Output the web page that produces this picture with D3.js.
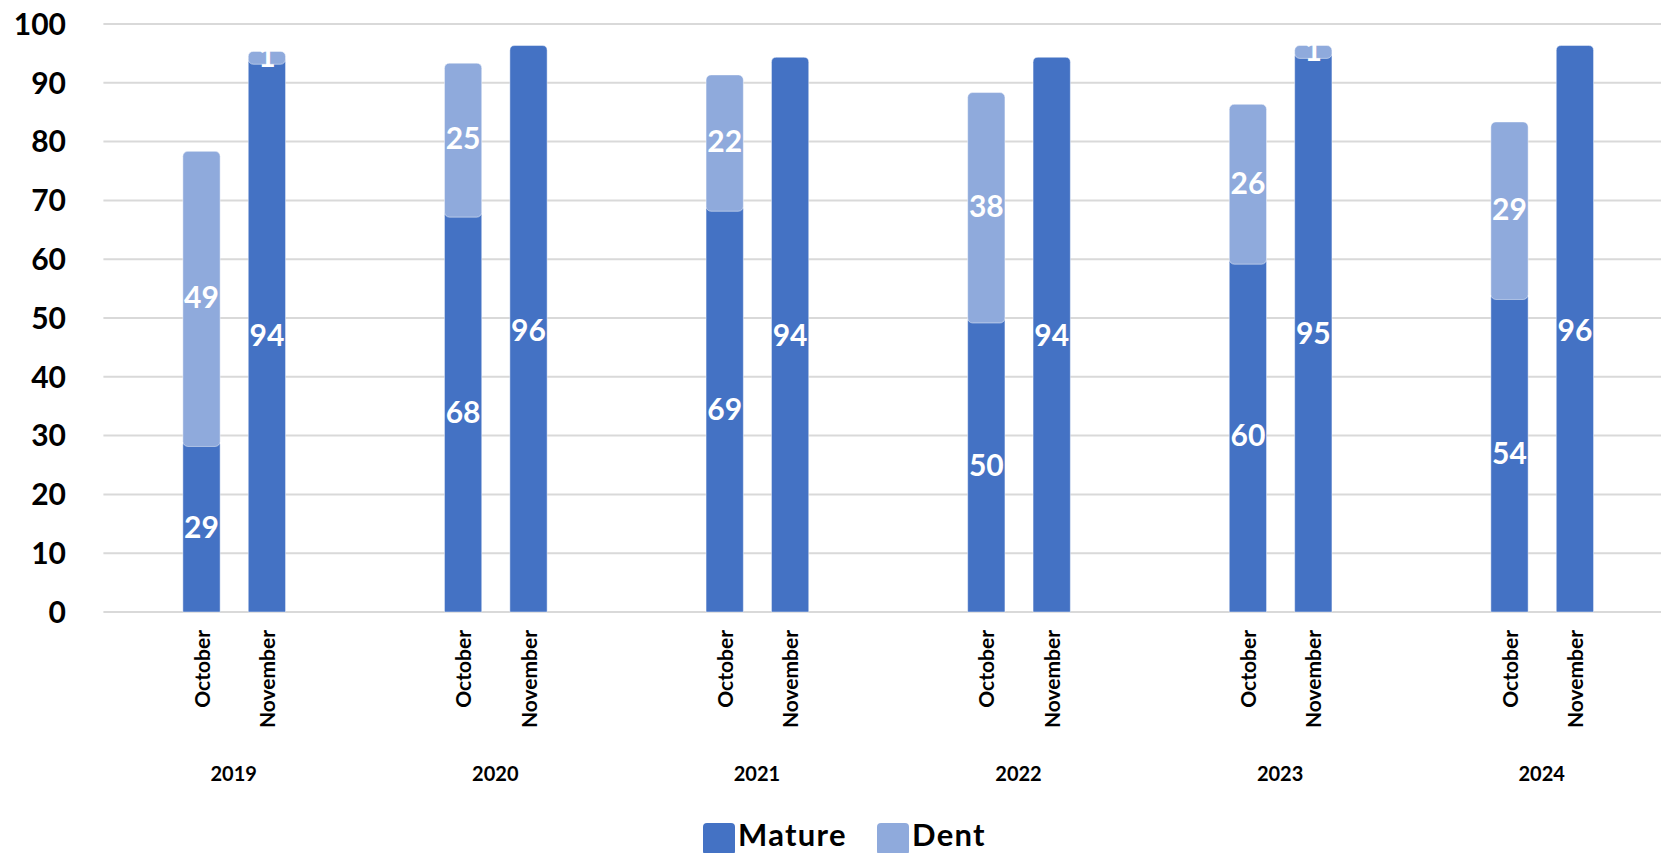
<!DOCTYPE html>
<html>
<head>
<meta charset="utf-8">
<script src="https://cdn.jsdelivr.net/npm/d3@7"></script>
<style>
  html, body { margin: 0; padding: 0; background: #fff; overflow: hidden; }
  svg { display: block; font-family: Lato, "Open Sans", sans-serif; }
</style>
</head>
<body>
<svg id="chart" width="1661" height="853"></svg>
<script>
const years = ["2019", "2020", "2021", "2022", "2023", "2024"];
const months = ["October", "November"];
const seriesNames = ["Mature", "Dent"];
const colors = ["#4472C4", "#8FAADC"];
// values per year: [October, November]
const matureValues = [[29, 94], [68, 96], [69, 94], [50, 94], [60, 95], [54, 96]];
const dentValues   = [[49, 1],  [25, 0],  [22, 0],  [38, 0],  [26, 1],  [29, 0]];
const yTicks = [0, 10, 20, 30, 40, 50, 60, 70, 80, 90, 100];

const svg = d3.select("#chart");
const plotLeft = 103.4, plotRight = 1673, plotTop = 24, plotBottom = 612;

const y = d3.scaleLinear().domain([0, 100]).range([plotBottom, plotTop]);
const x0 = d3.scaleBand().domain(years).range([plotLeft, plotRight]);
const bw = x0.bandwidth();
const x1 = d3.scaleBand().domain(months)
  .range([bw * 0.25, bw * 0.75]).paddingInner(0.43).paddingOuter(0.215);

// gridlines
svg.append("g").selectAll("line").data(yTicks).join("line")
  .attr("x1", plotLeft).attr("x2", 1661)
  .attr("y1", d => y(d)).attr("y2", d => y(d))
  .attr("stroke", "#d9d9d9").attr("stroke-width", 2);

// y tick labels
svg.append("g").selectAll("text").data(yTicks).join("text")
  .attr("x", 66).attr("y", d => y(d)).attr("dy", "0.36em")
  .attr("text-anchor", "end")
  .style("font-size", "30px").style("font-weight", "bold").attr("fill", "#000")
  .text(d => d);

// build stacked records
const records = [];
years.forEach((yr, i) => {
  months.forEach((m, j) => {
    const vals = [matureValues[i][j], dentValues[i][j]];
    let base = 0;
    vals.forEach((v, k) => {
      records.push({ year: yr, month: m, series: k, y0: base, y1: base + v, v });
      base += v;
    });
  });
});

function topRounded(x, yTop, w, h, r) {
  r = Math.min(r, h, w / 2);
  return `M${x},${yTop + h}V${yTop + r}Q${x},${yTop} ${x + r},${yTop}H${x + w - r}Q${x + w},${yTop} ${x + w},${yTop + r}V${yTop + h}Z`;
}

const lift = 2, overlap = 5;
const bars = svg.append("g");
// Mature segments (rounded top corners)
bars.selectAll("path.mature").data(records.filter(d => d.series === 0 && d.v > 0)).join("path")
  .attr("class", "mature")
  .attr("d", d => topRounded(x0(d.year) + x1(d.month), y(d.y1) - lift, x1.bandwidth(), y(d.y0) - y(d.y1) + lift, 5))
  .attr("fill", colors[0])
  .attr("stroke", "#ffffff").attr("stroke-opacity", 0.45).attr("stroke-width", 1);
// Dent segments (rounded rectangle, overlapping the Mature top a little)
bars.selectAll("rect.dent").data(records.filter(d => d.series === 1 && d.v > 0)).join("rect")
  .attr("class", "dent")
  .attr("x", d => x0(d.year) + x1(d.month))
  .attr("width", x1.bandwidth())
  .attr("y", d => y(d.y1) - lift)
  .attr("height", d => y(d.y0) - y(d.y1) + lift + overlap)
  .attr("rx", 5)
  .attr("fill", colors[1])
  .attr("stroke", "#ffffff").attr("stroke-opacity", 0.45).attr("stroke-width", 1);

// data labels
svg.append("g").selectAll("text").data(records.filter(d => d.v > 0)).join("text")
  .attr("x", d => x0(d.year) + x1(d.month) + x1.bandwidth() / 2)
  .attr("y", d => y((d.y0 + d.y1) / 2))
  .attr("dy", "0.36em")
  .attr("text-anchor", "middle")
  .style("font-size", "30px").style("font-weight", "bold").attr("fill", "#fff")
  .text(d => d.v);

// month labels (rotated)
const monthLabels = [];
years.forEach(yr => months.forEach(m => monthLabels.push({ year: yr, month: m })));
svg.append("g").selectAll("text").data(monthLabels).join("text")
  .attr("transform", d => `translate(${x0(d.year) + x1(d.month) + x1.bandwidth() / 2 + 8},630) rotate(-90)`)
  .attr("text-anchor", "end")
  .style("font-size", "21px").style("font-weight", "bold").attr("fill", "#000")
  .text(d => d.month);

// year labels
svg.append("g").selectAll("text").data(years).join("text")
  .attr("x", d => x0(d) + bw / 2 - 0.5)
  .attr("y", 781)
  .attr("text-anchor", "middle")
  .style("font-size", "20px").style("font-weight", "bold").attr("fill", "#000")
  .text(d => d);

// legend
const legendX = [703, 877];
const lg = svg.append("g").selectAll("g").data(seriesNames).join("g")
  .attr("transform", (d, i) => `translate(${legendX[i]},823)`);
lg.append("rect").attr("width", 32).attr("height", 32).attr("rx", 4)
  .attr("fill", (d, i) => colors[i]);
lg.append("text").attr("x", 35).attr("y", 23)
  .style("font-size", "31px").style("font-weight", "bold").style("letter-spacing", "1.3px")
  .attr("fill", "#000").text(d => d);
</script>
</body>
</html>
